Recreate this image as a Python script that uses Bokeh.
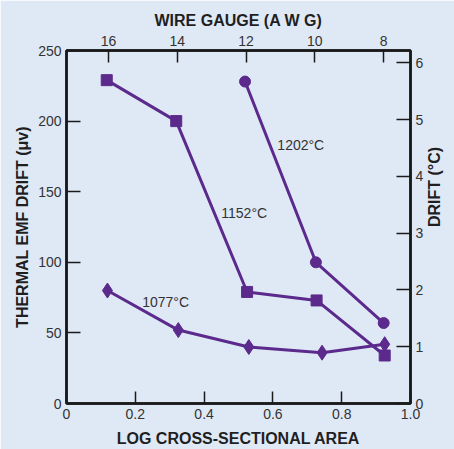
import math
from bokeh.plotting import figure
from bokeh.models import Range1d, LinearAxis, FixedTicker, Label
from bokeh.embed import file_html
from bokeh.resources import INLINE

# Data
x_1152 = [0.117, 0.319, 0.525, 0.727, 0.925]
y_1152 = [229, 200, 79, 73, 34]
x_1202 = [0.519, 0.725, 0.922]
y_1202 = [228, 100, 57]
x_1077 = [0.119, 0.325, 0.53, 0.743, 0.925]
y_1077 = [80, 52, 40, 36, 42]
gauge_ticks = [16, 14, 12, 10, 8]
x_ticks = [0, 0.2, 0.4, 0.6, 0.8, 1.0]
y_ticks = [0, 50, 100, 150, 200, 250]
drift_ticks = [0, 1, 2, 3, 4, 5, 6]

PURPLE = "#5b2a8c"
BG = "#dfe9f6"
FONT = "Liberation Sans"

p = figure(width=454, height=449, output_backend="svg", toolbar_location=None,
           x_range=Range1d(0, 1.0), y_range=Range1d(0, 250),
           min_border_left=66, min_border_right=43, min_border_top=50, min_border_bottom=43)
p.background_fill_color = BG
p.border_fill_color = BG
p.outline_line_color = "#1a1a1a"
p.outline_line_width = 2.5
p.xgrid.visible = False
p.ygrid.visible = False

p.extra_x_ranges = {"gauge": Range1d(17.22, 7.22)}
p.extra_y_ranges = {"drift": Range1d(0, 6.22)}

bottom = p.below[0]
left = p.left[0]

top = LinearAxis(x_range_name="gauge", axis_label="WIRE GAUGE (A W G)")
top.ticker = FixedTicker(ticks=gauge_ticks)
p.add_layout(top, "above")
right = LinearAxis(y_range_name="drift", axis_label="DRIFT (°C)")
right.ticker = FixedTicker(ticks=drift_ticks)
p.add_layout(right, "right")

bottom.ticker = FixedTicker(ticks=x_ticks)
left.ticker = FixedTicker(ticks=y_ticks)
bottom.axis_label = "LOG CROSS-SECTIONAL AREA"
left.axis_label = "THERMAL EMF DRIFT (μv)"
bottom.major_label_overrides = {0: "0", 1: "1.0"}

for ax in [bottom, left, top, right]:
    ax.axis_line_color = "#1a1a1a"
    ax.axis_line_width = 2.5
    ax.major_tick_line_color = "#1a1a1a"
    ax.major_tick_line_width = 1.5
    ax.major_tick_out = 0
    ax.major_tick_in = 14
    ax.minor_tick_line_color = None
    ax.major_label_text_font = FONT
    ax.major_label_text_font_size = "14px"
    ax.major_label_text_color = "#333333"
    ax.axis_label_text_font = FONT
    ax.axis_label_text_font_size = "16px"
    ax.axis_label_text_font_style = "bold"
    ax.axis_label_text_color = "#1f1f1f"
    ax.major_label_standoff = 5
    ax.axis_label_standoff = 6

bottom.major_tick_in = 12
top.major_tick_in = 12
top.axis_label_standoff = 4
left.axis_label_standoff = 4
bottom.axis_label_standoff = 8
right.axis_label_orientation = math.pi / 2
right.axis_label_standoff = 8

p.line(x_1152, y_1152, line_color=PURPLE, line_width=3)
p.scatter(x_1152, y_1152, marker="square", size=11, color=PURPLE)
p.line(x_1202, y_1202, line_color=PURPLE, line_width=3)
p.scatter(x_1202, y_1202, marker="circle", size=11, color=PURPLE)
p.line(x_1077, y_1077, line_color=PURPLE, line_width=3)
p.scatter(x_1077, y_1077, marker="diamond", size=15, color=PURPLE)

for txt, x, y in [("1202°C", 0.613, 183), ("1152°C", 0.450, 135), ("1077°C", 0.220, 72)]:
    p.add_layout(Label(x=x, y=y, text=txt, text_font=FONT, text_font_size="14px",
                       text_color="#333333", text_baseline="middle", text_align="left"))

open("out.html", "w").write(file_html(p, INLINE))
